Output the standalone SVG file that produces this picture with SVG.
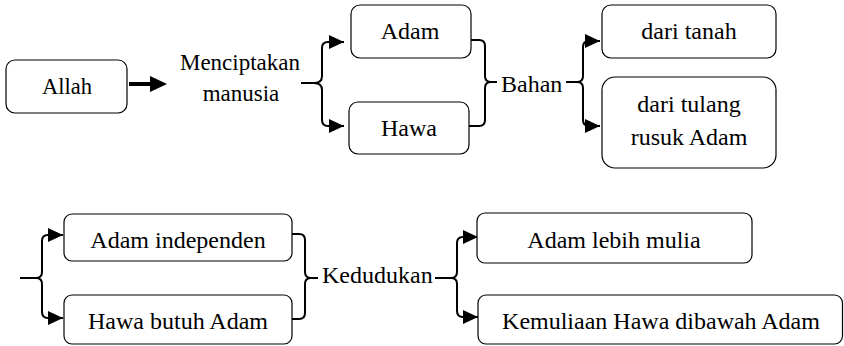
<svg xmlns="http://www.w3.org/2000/svg" width="844" height="346" viewBox="0 0 844 346" font-family="'Liberation Serif', 'Times New Roman', serif">
<defs>
<marker id="ah" markerUnits="userSpaceOnUse" markerWidth="15" markerHeight="14" viewBox="0 0 15 14" refX="15" refY="7" orient="auto">
<path d="M0,0 L15,7 L0,14 z" fill="#000"/>
</marker>
</defs>
<rect width="844" height="346" fill="#fff"/>
<g id="connectors" fill="none" stroke="#000" stroke-width="2">
<line x1="129" y1="84" x2="152" y2="84" stroke-width="4"/>
<polygon points="150,76 167,84 150,92" fill="#000" stroke="none"/>
<path d="M301,83 H314 Q322,83 322,76 V48 Q322,42 328,42 H344" marker-end="url(#ah)"/>
<path d="M314,83 Q322,83 322,90 V120 Q322,126 328,126 H344" marker-end="url(#ah)"/>
<path d="M471,40 H479 Q485,40 485,46 V76 Q485,82 491,82 H497"/>
<path d="M469,126 H479 Q485,126 485,120 V88 Q485,82 491,82"/>
<path d="M566,82 H577 Q583,82 583,76 V47 Q583,41 589,41 H600" marker-end="url(#ah)"/>
<path d="M577,82 Q583,82 583,88 V120 Q583,126 589,126 H600" marker-end="url(#ah)"/>
<path d="M20,278 H36 Q42,278 42,272 V241 Q42,235 48,235 H63" marker-end="url(#ah)"/>
<path d="M36,278 Q42,278 42,284 V312 Q42,318 48,318 H63" marker-end="url(#ah)"/>
<path d="M292,234 H299 Q305,234 305,240 V272 Q305,278 311,278 H318"/>
<path d="M292,319 H299 Q305,319 305,313 V284 Q305,278 311,278"/>
<path d="M435,278 H451 Q457,278 457,272 V243 Q457,237 463,237 H478" marker-end="url(#ah)"/>
<path d="M451,278 Q457,278 457,284 V311 Q457,317 463,317 H478" marker-end="url(#ah)"/>
</g>
<g id="nodes" font-size="24" fill="#000">
<g id="allah"><rect x="6" y="60" width="121" height="53" rx="9" fill="#fff" stroke="#000" stroke-width="1.2"/><text x="67" y="94" font-size="22.5" text-anchor="middle">Allah</text></g>
<g id="menciptakan"><text x="240" y="70" font-size="23" text-anchor="middle">Menciptakan</text><text x="241" y="101" font-size="23" text-anchor="middle">manusia</text></g>
<g id="adam"><rect x="351" y="5" width="120" height="53" rx="9" fill="#fff" stroke="#000" stroke-width="1.2"/><text x="410" y="39" text-anchor="middle">Adam</text></g>
<g id="hawa"><rect x="349" y="102" width="120" height="52" rx="9" fill="#fff" stroke="#000" stroke-width="1.2"/><text x="409" y="136" text-anchor="middle">Hawa</text></g>
<g id="bahan"><text x="501" y="92">Bahan</text></g>
<g id="dari-tanah"><rect x="602" y="5" width="174" height="53" rx="9" fill="#fff" stroke="#000" stroke-width="1.2"/><text x="689" y="39" text-anchor="middle">dari tanah</text></g>
<g id="dari-tulang"><rect x="602" y="77" width="174" height="91" rx="13" fill="#fff" stroke="#000" stroke-width="1.2"/><text x="689" y="112" text-anchor="middle">dari tulang</text><text x="689" y="145" text-anchor="middle">rusuk Adam</text></g>
<g id="adam-independen"><rect x="64" y="214" width="228" height="47" rx="8" fill="#fff" stroke="#000" stroke-width="1.2"/><text x="178" y="248" text-anchor="middle">Adam independen</text></g>
<g id="hawa-butuh"><rect x="64" y="295" width="228" height="49" rx="8" fill="#fff" stroke="#000" stroke-width="1.2"/><text x="178" y="329" text-anchor="middle">Hawa butuh Adam</text></g>
<g id="kedudukan"><text x="322" y="283">Kedudukan</text></g>
<g id="adam-lebih"><rect x="477" y="213" width="275" height="50" rx="8" fill="#fff" stroke="#000" stroke-width="1.2"/><text x="614" y="248" text-anchor="middle">Adam lebih mulia</text></g>
<g id="kemuliaan"><rect x="478" y="295" width="364.5" height="49" rx="8" fill="#fff" stroke="#000" stroke-width="1.2"/><text x="661" y="329" text-anchor="middle">Kemuliaan Hawa dibawah Adam</text></g>
</g>
</svg>
